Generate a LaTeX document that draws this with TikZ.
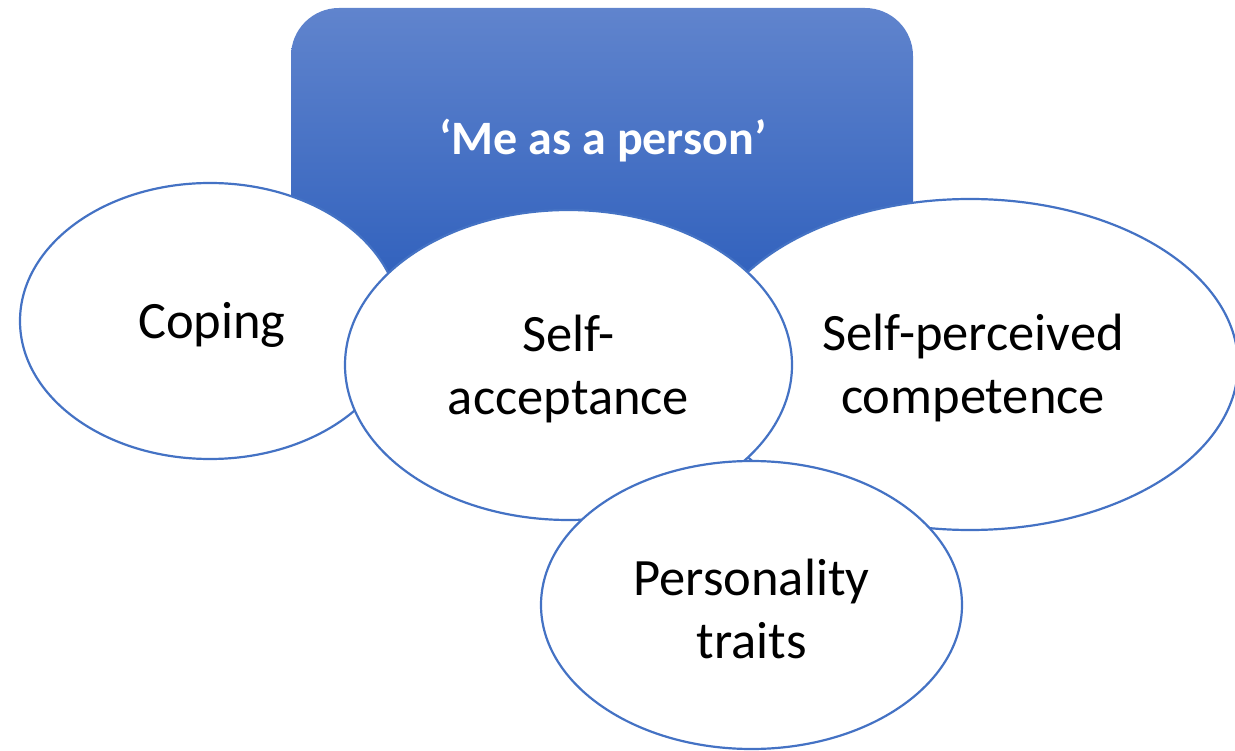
\documentclass[tikz,border=0pt]{standalone}
\usepackage{fontspec}
\setmainfont{Carlito}
\usetikzlibrary{shapes.geometric}
\definecolor{edgeblue}{RGB}{68,114,196}
\definecolor{topblue}{RGB}{96,132,205}
\definecolor{botblue}{RGB}{46,95,188}
\tikzset{
  bubble/.style={ellipse, draw=edgeblue, line width=2.2pt, fill=white, inner sep=0pt},
  bubbletext/.style={align=center, inner sep=0pt, font=\fontsize{52.5}{63}\selectfont, text=black, yshift=-4pt},
  headbox/.style={rounded corners=48pt, top color=topblue, bottom color=botblue},
}
\begin{document}
\begin{tikzpicture}[x=1pt,y=-1pt]
\useasboundingbox (0,0) rectangle (1235,751);
\path[headbox] (291,8) rectangle (913,300);
\node[font=\fontsize{48}{57}\bfseries\selectfont, text=white] (title) at (603,141) {‘Me as a person’};
\node[bubble, minimum width=380pt, minimum height=276pt] (coping) at (210,321) {};
\node[bubbletext] (copingtext) at ([xshift=2pt]coping.center) {Coping};
\node[bubble, minimum width=536pt, minimum height=331pt] (competence) at (970,364.5) {};
\node[bubbletext] (competencetext) at ([xshift=3pt]competence.center) {Self-perceived\\competence};
\node[bubble, minimum width=447pt, minimum height=310pt] (acceptance) at (568.5,365) {};
\node[bubbletext] (acceptancetext) at (acceptance.center) {Self-\\acceptance};
\node[bubble, minimum width=421pt, minimum height=288pt] (traits) at (751.5,605) {};
\node[bubbletext] (traitstext) at (traits.center) {Personality\\traits};
\end{tikzpicture}
\end{document}
